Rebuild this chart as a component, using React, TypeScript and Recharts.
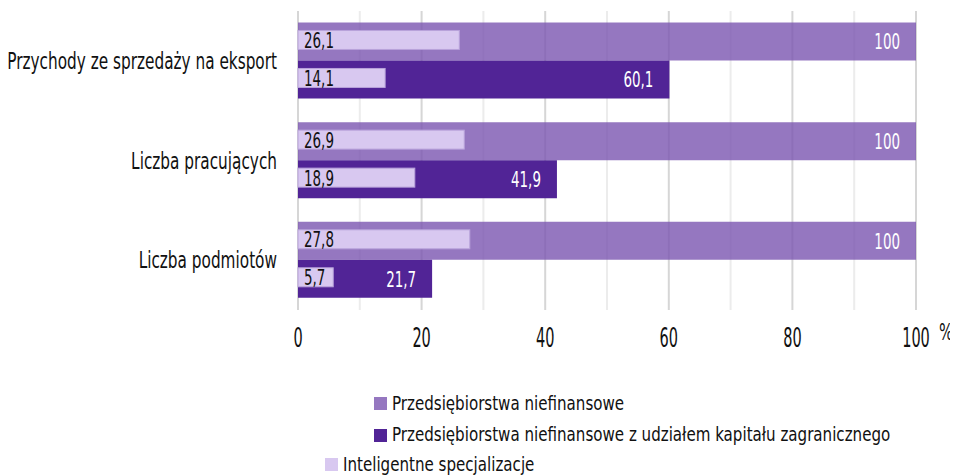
import React from 'react';
import { BarChart, Bar, XAxis, YAxis, CartesianGrid, LabelList } from 'recharts';

const categories = ['Przychody ze sprzedaży na eksport', 'Liczba pracujących', 'Liczba podmiotów'];
const niefinansowe = [100, 100, 100];
const zagraniczne = [60.1, 41.9, 21.7];
const intelNiefinansowe = [26.1, 26.9, 27.8];
const intelZagraniczne = [14.1, 18.9, 5.7];
const xTicks = [0, 20, 40, 60, 80, 100];
const minorTicks = [10, 30, 50, 70, 90];

const FONT = "'DejaVu Sans Condensed', 'DejaVu Sans', sans-serif";
const C_NIEF = '#7b55b0';
const C_ZAGR = '#512496';
const C_INTEL = '#d8c8f0';

const data = categories.map((name, i) => ({
    name,
    nief: niefinansowe[i],
    zagr: zagraniczne[i],
    intelNief: intelNiefinansowe[i],
    intelZagr: intelZagraniczne[i],
}));

const fmt = (v: number) => String(v).replace('.', ',');

// condensed text: the original font is a narrow display face
const NText = ({ x, y, size, anchor = 'start', fill = '#111', sx = 0.8, children }: any) => (
    <g transform={`translate(${x},${y})`}>
        <text transform={`scale(${sx},1)`} textAnchor={anchor} fontSize={size} fill={fill} fontFamily={FONT}>
            {children}
        </text>
    </g>
);

const CategoryTick = ({ x, y, payload }: any) => (
    <NText x={x} y={y + 8} size={23} anchor="end" sx={0.74}>{payload.value}</NText>
);

const ValueTick = ({ x, y, payload }: any) => (
    <NText x={x} y={y + 37} size={26} anchor="middle" sx={0.62}>{payload.value}</NText>
);

const InsideRight = ({ x, y, width, height, value }: any) => (
    <NText x={x + width - 16} y={y + height / 2 + 8} size={22} anchor="end" fill="#fff" sx={0.68}>{fmt(value)}</NText>
);

// inner bars sit in the same slot as the outer bar, drawn at half its thickness
const innerY = (p: any) => p.y + p.height / 4 - 1.5;

const InsideLeft = ({ x, y, height, value }: any) => (
    <NText x={x + 6} y={y + height / 2 - 1.5 + 8} size={22} anchor="start" fill="#111" sx={0.68}>{fmt(value)}</NText>
);

const InnerBar = (p: any) => (
    <rect x={p.x} y={innerY(p)} width={p.width} height={p.height / 2} fill={C_INTEL} stroke="#b8a2da" strokeWidth={1} />
);

const legendItems = [
    { label: 'Przedsiębiorstwa niefinansowe', color: C_NIEF, opacity: 0.8, left: 366, top: 385.5 },
    { label: 'Przedsiębiorstwa niefinansowe z udziałem kapitału zagranicznego', color: C_ZAGR, opacity: 1, left: 366, top: 417 },
    { label: 'Inteligentne specjalizacje', color: C_INTEL, opacity: 1, left: 317, top: 446.5 },
];

const App: React.FC = () => {
    return (
        <div style={{ position: 'relative', width: 950, height: 467 }}>
            <BarChart
                width={940}
                height={360}
                data={data}
                layout="vertical"
                margin={{ top: 3, right: 32, bottom: 8, left: 0 }}
                barCategoryGap="11.5%"
                barGap={0}
            >
                <CartesianGrid horizontal={false} verticalValues={minorTicks} stroke="#ececec" strokeWidth={2} />
                <CartesianGrid horizontal={false} verticalValues={xTicks} stroke="#d6d6d6" strokeWidth={2} />
                <XAxis
                    type="number"
                    domain={[0, 100]}
                    ticks={xTicks}
                    axisLine={false}
                    tickLine={false}
                    tickSize={0}
                    tickMargin={0}
                    height={50}
                    tick={<ValueTick />}
                />
                <YAxis
                    type="category"
                    dataKey="name"
                    width={290}
                    axisLine={false}
                    tickLine={false}
                    tickSize={0}
                    tickMargin={21}
                    tick={<CategoryTick />}
                />
                <YAxis yAxisId="inner" type="category" dataKey="name" hide />
                <Bar dataKey="nief" fill={C_NIEF} fillOpacity={0.8} isAnimationActive={false}>
                    <LabelList dataKey="nief" content={<InsideRight />} />
                </Bar>
                <Bar dataKey="zagr" fill={C_ZAGR} isAnimationActive={false}>
                    <LabelList dataKey="zagr" content={<InsideRight />} />
                </Bar>
                <Bar yAxisId="inner" dataKey="intelNief" shape={<InnerBar />} isAnimationActive={false}>
                    <LabelList dataKey="intelNief" content={<InsideLeft />} />
                </Bar>
                <Bar yAxisId="inner" dataKey="intelZagr" shape={<InnerBar />} isAnimationActive={false}>
                    <LabelList dataKey="intelZagr" content={<InsideLeft />} />
                </Bar>
            </BarChart>
            <div
                style={{ position: 'absolute', left: 931, top: 312, fontFamily: FONT, fontSize: 23, lineHeight: '24px', color: '#111', transform: 'scaleX(0.72)', transformOrigin: 'left' }}
            >
                %
            </div>
            {legendItems.map((item) => (
                <div
                    key={item.label}
                    style={{ position: 'absolute', left: item.left, top: item.top, display: 'flex', alignItems: 'center', whiteSpace: 'nowrap' }}
                >
                    <span style={{ width: 13, height: 13, background: item.color, opacity: item.opacity, display: 'inline-block', marginRight: 5 }} />
                    <span
                        style={{ fontFamily: FONT, fontSize: 19.5, color: '#111', lineHeight: '20px', display: 'inline-block', transform: 'scaleX(0.86)', transformOrigin: 'left' }}
                    >
                        {item.label}
                    </span>
                </div>
            ))}
        </div>
    );
};

export default App;
